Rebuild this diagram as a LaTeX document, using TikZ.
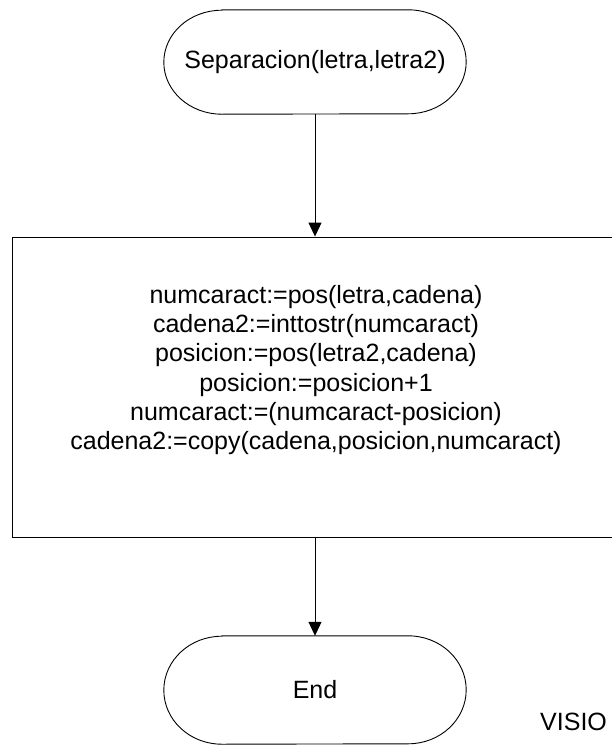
\documentclass[tikz,border=0pt]{standalone}
\usepackage{fontspec}
\setmainfont{Liberation Sans}
\usetikzlibrary{arrows.meta}
\begin{document}
\begin{tikzpicture}[x=1pt,y=-1pt,
  lbl/.style={font=\fontsize{25}{29.2}\selectfont, align=center, inner sep=0pt},
  termshape/.style={draw=none, minimum width=302pt, minimum height=104pt, inner sep=0pt},
  edge/.style={line width=1pt, -{Triangle[width=13pt,length=14pt]}},
  outline/.style={line width=0.9pt}
]
\useasboundingbox (0,0) rectangle (612,747);

% start terminator
\node[termshape, lbl] (start) at (315,62) {Separacion(letra,letra2)};
\draw[outline] ([xshift=58pt]start.north west) -- ([xshift=-58pt]start.north east)
  arc[start angle=90, end angle=-90, x radius=58pt, y radius=52pt]
  -- ([xshift=58pt]start.south west)
  arc[start angle=270, end angle=90, x radius=58pt, y radius=52pt] -- cycle;

% process box
\node[draw, outline, minimum width=608pt, minimum height=300pt, inner sep=0pt] (proc) at (316,387) {};
\node[lbl] (proctext) at (316,370) {numcaract:=pos(letra,cadena)\\
cadena2:=inttostr(numcaract)\\
posicion:=pos(letra2,cadena)\\
posicion:=posicion+1\\
numcaract:=(numcaract-posicion)\\
cadena2:=copy(cadena,posicion,numcaract)};

% end terminator
\node[termshape, lbl, minimum height=108pt] (stop) at (315,690) {End};
\draw[outline] ([xshift=58pt]stop.north west) -- ([xshift=-58pt]stop.north east)
  arc[start angle=90, end angle=-90, x radius=58pt, y radius=54pt]
  -- ([xshift=58pt]stop.south west)
  arc[start angle=270, end angle=90, x radius=58pt, y radius=54pt] -- cycle;

\node[lbl, anchor=base west] (mark) at (540,730) {VISIO};

% connectors
\draw[edge] (start.south) -- (proc.north -| start.south);
\draw[edge] (proc.south -| stop.north) -- (stop.north);
\end{tikzpicture}
\end{document}
